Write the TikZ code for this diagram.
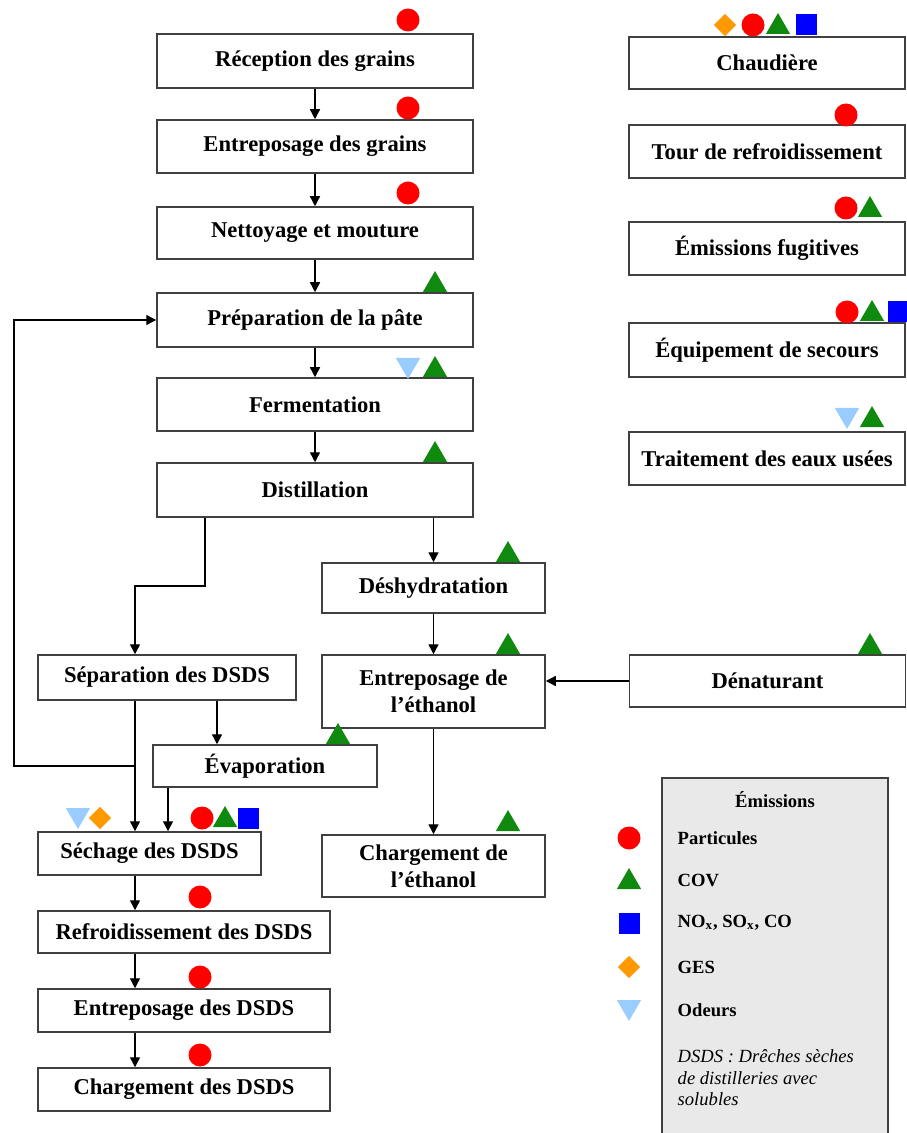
\documentclass[tikz,border=0pt]{standalone}
\usepackage{fontspec}
\setmainfont{Liberation Serif}
\usetikzlibrary{arrows.meta,shapes.geometric}

\definecolor{partred}{HTML}{FF0000}
\definecolor{covgreen}{HTML}{0F8A0F}
\definecolor{noxblue}{HTML}{0000FF}
\definecolor{gesorange}{HTML}{FF9900}
\definecolor{odeurblue}{HTML}{99CCFF}

\tikzset{
    stage/.style={draw=black!75, line width=0.75pt, fill=white, align=center,
        inner sep=2pt, font=\fontsize{11.3}{13.5}\selectfont\bfseries},
    part/.style={circle, fill=partred, minimum size=11.5pt, inner sep=0pt},
    cov/.style={regular polygon, regular polygon sides=3, fill=covgreen,
        minimum size=14pt, inner sep=0pt},
    odeur/.style={cov, fill=odeurblue, shape border rotate=180},
    ges/.style={diamond, fill=gesorange, minimum width=11.5pt, minimum height=11.5pt, inner sep=0pt},
    nox/.style={rectangle, fill=noxblue, minimum size=10.5pt, inner sep=0pt},
    legtext/.style={anchor=west, inner sep=0pt, font=\fontsize{9.3}{10.8}\selectfont\bfseries}
}

\begin{document}
\begin{tikzpicture}[x=0.5pt, y=-0.5pt, line width=0.7pt,
        >={Triangle[length=5pt,width=5pt]}]
    \useasboundingbox (0,0) rectangle (906,1133);

    % main line
    \node[stage, minimum width=158pt, minimum height=27pt] (recep) at (315,61) {Réception des grains};
    \node[stage, minimum width=158pt, minimum height=26.5pt] (entrep) at (315,146.5) {Entreposage des grains};
    \node[stage, minimum width=158pt, minimum height=26pt] (nettoy) at (315,233) {Nettoyage et mouture};
    \node[stage, minimum width=158pt, minimum height=27pt] (prep) at (315,320) {Préparation de la pâte};
    \node[stage, minimum width=158pt, minimum height=26.5pt] (ferm) at (315,404.5) {Fermentation};
    \node[stage, minimum width=158pt, minimum height=27pt] (distil) at (315,490) {Distillation};

    % ethanol branch
    \node[stage, minimum width=111.5pt, minimum height=25pt] (desh) at (433.5,588) {Déshydratation};
    \node[stage, minimum width=111.5pt, minimum height=36.5pt] (enteth) at (433.5,691.5) {Entreposage de\\l’éthanol};
    \node[stage, minimum width=111.5pt, minimum height=31pt] (cheth) at (433.5,866) {Chargement de\\l’éthanol};
    \node[stage, minimum width=138pt, minimum height=26pt] (denat) at (767.5,681) {Dénaturant};

    % DSDS branch
    \node[stage, minimum width=129pt, minimum height=22.5pt] (sep) at (167,677.5) {Séparation des DSDS};
    \node[stage, minimum width=112pt, minimum height=21pt] (evap) at (265,766) {Évaporation};
    \node[stage, minimum width=111.5pt, minimum height=21.5pt] (sech) at (149.5,853.5) {Séchage des DSDS};
    \node[stage, minimum width=146pt, minimum height=21pt] (refr) at (184,932) {Refroidissement des DSDS};
    \node[stage, minimum width=146pt, minimum height=21.5pt] (entd) at (184,1010.5) {Entreposage des DSDS};
    \node[stage, minimum width=146pt, minimum height=21.5pt] (chd) at (184,1089.5) {Chargement des DSDS};

    % other sources
    \node[stage, minimum width=138pt, minimum height=26pt] (chaud) at (767,63) {Chaudière};
    \node[stage, minimum width=138pt, minimum height=26.5pt] (tour) at (767,151.5) {Tour de refroidissement};
    \node[stage, minimum width=138pt, minimum height=26.5pt] (fugit) at (767,248.5) {Émissions fugitives};
    \node[stage, minimum width=138pt, minimum height=27pt] (secours) at (767,350) {Équipement de secours};
    \node[stage, minimum width=138pt, minimum height=26.5pt] (eaux) at (767,458.5) {Traitement des eaux usées};

    % connectors
    \draw[->] (recep) -- (entrep);
    \draw[->] (entrep) -- (nettoy);
    \draw[->] (nettoy) -- (prep);
    \draw[->] (prep) -- (ferm);
    \draw[->] (ferm) -- (distil);
    \coordinate (dsplit) at (205,586);
    \draw[->] (distil.south -| dsplit) -- (dsplit) -| ([xshift=-16pt]sep.north);
    \draw[->] (distil.south -| desh.north) -- (desh.north);
    \draw[->] (desh) -- (enteth);
    \draw[->] (enteth) -- (cheth);
    \draw[->] (denat.west) -- (denat.west -| enteth.east);
    \draw[->] ([xshift=25pt]sep.south) -- ([xshift=25pt]sep.south |- evap.north);
    \draw[->] ([xshift=-16pt]sep.south) -- ([xshift=-16pt]sep.south |- sech.north);
    \draw[->] ([xshift=-48.5pt]evap.south) -- ([xshift=-48.5pt]evap.south |- sech.north);
    \coordinate (fbstart) at (135,766);
    \coordinate (fbcorner) at (14,766);
    \draw[->] (fbstart) -- (fbcorner) |- (prep.west);
    \draw[->] ([xshift=-7.25pt]sech.south) -- ([xshift=-7.25pt]sech.south |- refr.north);
    \draw[->] ([xshift=-24.5pt]refr.south) -- ([xshift=-24.5pt]refr.south |- entd.north);
    \draw[->] ([xshift=-24.5pt]entd.south) -- ([xshift=-24.5pt]entd.south |- chd.north);

    % emission marks
    \foreach \x/\y [count=\i] in {408/20, 408/108, 408/193, 753/25, 846/115, 846/208,
            847/312, 202/818, 200/897, 200/977, 200/1055}
        \node[part] (part\i) at (\x,\y) {};
    \foreach \x/\y [count=\i] in {435/285, 435/370, 435/455, 778/27, 870/210, 872/314,
            872/420, 508/555, 508/647, 870/647, 338/737, 508/824, 225/820}
        \node[cov] (cov\i) at (\x,\y) {};
    \foreach \x/\y [count=\i] in {408/365, 847/415, 78/815}
        \node[odeur] (odeur\i) at (\x,\y) {};
    \foreach \x/\y [count=\i] in {725/25, 100/818}
        \node[ges] (ges\i) at (\x,\y) {};
    \foreach \x/\y [count=\i] in {806/25, 898/312, 248/818}
        \node[nox] (nox\i) at (\x,\y) {};

    % legend
    \node[draw=black!75, line width=0.75pt, fill=gray!17, minimum width=113pt,
        minimum height=184pt, inner sep=0pt] (legend) at (775,962) {};
    \node[font=\fontsize{9.3}{10.8}\selectfont\bfseries, inner sep=0pt] (legtitle) at (775,800) {Émissions};
    \node[part] (legpart) at (629,838) {};
    \node[cov] (legcov) at (629,882) {};
    \node[nox] (legnox) at (629,923) {};
    \node[ges] (legges) at (629,967) {};
    \node[odeur] (legodeur) at (629,1007) {};
    \node[legtext] (txtpart) at (677,838) {Particules};
    \node[legtext] (txtcov) at (677,880) {COV};
    \node[legtext] (txtnox) at (677,923) {NO\textsubscript{x}, SO\textsubscript{x}, CO};
    \node[legtext] (txtges) at (677,967) {GES};
    \node[legtext] (txtodeur) at (677,1010) {Odeurs};
    \node[legtext, anchor=north west, align=left, font=\fontsize{9.3}{10.8}\selectfont\itshape]
        (legnote) at (677,1049) {DSDS : Drêches sèches\\de distilleries avec\\solubles};
\end{tikzpicture}
\end{document}
